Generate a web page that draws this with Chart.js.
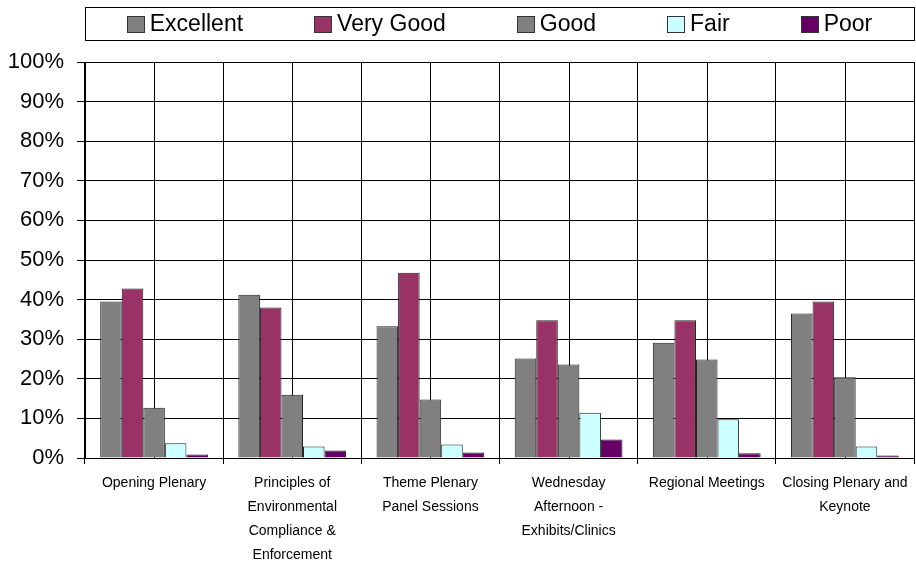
<!DOCTYPE html>
<html>
<head>
<meta charset="utf-8">
<script src="https://cdn.jsdelivr.net/npm/chart.js@4"></script>
<style>
  body { margin: 0; background: #fff; }
  #wrap { width: 916px; height: 566px; position: relative; }
</style>
</head>
<body>
<div id="wrap"><canvas id="chart"></canvas></div>
<script>
const sessions = [
  ['Opening Plenary'],
  ['Principles of', 'Environmental', 'Compliance &', 'Enforcement'],
  ['Theme Plenary', 'Panel Sessions'],
  ['Wednesday', 'Afternoon -', 'Exhibits/Clinics'],
  ['Regional Meetings'],
  ['Closing Plenary and', 'Keynote']
];

const ratings = ['Excellent', 'Very Good', 'Good', 'Fair', 'Poor'];
const ratingColors = ['#808080', '#993366', '#808080', '#ccffff', '#660066'];

const excellent = [39.5, 41.2, 33.3, 25.1, 29.1, 36.5];
const veryGood  = [42.8, 38.0, 46.8, 34.8, 34.8, 39.5];
const good      = [12.7, 16.0, 14.8, 23.6, 24.9, 20.4];
const fair      = [3.7, 2.9, 3.4, 11.4, 9.8, 2.9];
const poor      = [0.9, 1.9, 1.4, 4.7, 1.2, 0.6];

const yTicks = [0, 10, 20, 30, 40, 50, 60, 70, 80, 90, 100];

const seriesValues = [excellent, veryGood, good, fair, poor];

const FONT = '"Liberation Sans", Arial, sans-serif';

// vertical lines in the middle of each category (Excel-style minor grid)
const centerLines = {
  id: 'centerLines',
  beforeDatasetsDraw(chart) {
    const { ctx, chartArea, scales } = chart;
    ctx.save();
    ctx.strokeStyle = '#000';
    ctx.lineWidth = 1;
    sessions.forEach((_, i) => {
      const x = Math.round(scales.x.getPixelForValue(i)) + 0.5;
      ctx.beginPath();
      ctx.moveTo(x, chartArea.top);
      ctx.lineTo(x, chartArea.bottom);
      ctx.stroke();
    });
    ctx.restore();
  }
};

// boxed legend spanning the plot width
const boxLegend = {
  id: 'boxLegend',
  afterDraw(chart) {
    const { ctx, chartArea } = chart;
    const top = 7, height = 33, mid = top + height / 2 + 0.5;
    const boxW = 17, boxH = 16, gap = 6, spacing = 71;
    ctx.save();
    ctx.strokeStyle = '#000';
    ctx.lineWidth = 1;
    ctx.strokeRect(Math.round(chartArea.left) + 0.5, top + 0.5, Math.round(chartArea.right - chartArea.left), height);
    ctx.font = '23px ' + FONT;
    const widths = chart.data.datasets.map(ds => boxW + gap + ctx.measureText(ds.label).width);
    const total = widths.reduce((a, b) => a + b, 0) + spacing * (widths.length - 1);
    let x = (chartArea.left + chartArea.right) / 2 - total / 2;
    ctx.textBaseline = 'middle';
    chart.data.datasets.forEach((ds, i) => {
      const bx = Math.round(x) + 0.5, by = Math.round(mid - boxH / 2) + 0.5;
      ctx.fillStyle = ds.backgroundColor;
      ctx.fillRect(bx, by, boxW, boxH);
      ctx.strokeStyle = '#333';
      ctx.strokeRect(bx, by, boxW, boxH);
      ctx.fillStyle = '#000';
      ctx.fillText(ds.label, x + boxW + gap, mid + 1);
      x += widths[i] + spacing;
    });
    ctx.restore();
  }
};

new Chart(document.getElementById('chart'), {
  type: 'bar',
  data: {
    labels: sessions,
    datasets: ratings.map((name, i) => ({
      label: name,
      data: seriesValues[i],
      backgroundColor: ratingColors[i],
      borderColor: '#222',
      borderWidth: 1,
      categoryPercentage: 0.78,
      barPercentage: 1.0
    }))
  },
  options: {
    responsive: true,
    maintainAspectRatio: false,
    animation: false,
    layout: { padding: { top: 62, left: 4, right: 2, bottom: 0 } },
    plugins: {
      legend: { display: false },
      tooltip: { enabled: false }
    },
    scales: {
      x: {
        afterFit(axis) { axis.height = 108; },
        grid: { color: '#000', lineWidth: 1, offset: true, tickLength: 6 },
        border: { color: '#000', width: 1 },
        ticks: {
          color: '#000',
          autoSkip: false,
          maxRotation: 0,
          minRotation: 0,
          padding: 7,
          font: { family: FONT, size: 14, lineHeight: 1.71 }
        }
      },
      y: {
        min: 0,
        max: 100,
        afterFit(axis) { axis.width = 81; },
        afterBuildTicks(axis) { axis.ticks = yTicks.map(v => ({ value: v })); },
        grid: { color: '#000', lineWidth: 1, tickLength: 8 },
        border: { color: '#000', width: 1 },
        ticks: {
          color: '#000',
          padding: 13,
          font: { family: FONT, size: 22 },
          callback: v => v + '%'
        }
      }
    }
  },
  plugins: [centerLines, boxLegend]
});
</script>
</body>
</html>
